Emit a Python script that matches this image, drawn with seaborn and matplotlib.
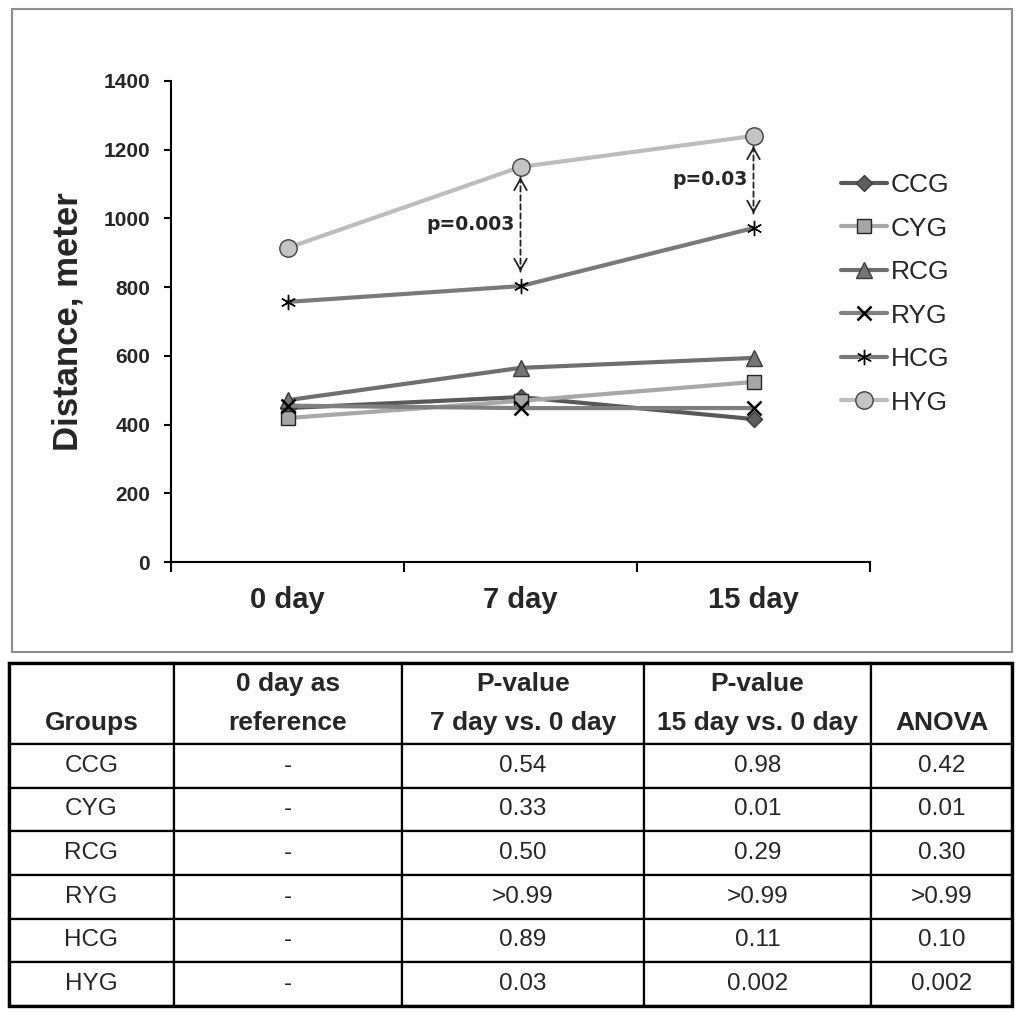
import numpy as np
import pandas as pd
import seaborn as sns
import matplotlib.pyplot as plt
from matplotlib.patches import Rectangle

# time points and groups
days = ['0 day', '7 day', '15 day']
groups = ['CCG', 'CYG', 'RCG', 'RYG', 'HCG', 'HYG']

# distance (meter) per group
ccg = [448, 480, 416]
cyg = [419, 469, 524]
rcg = [471, 565, 594]
ryg = [455, 448, 448]
hcg = [757, 803, 972]
hyg = [914, 1150, 1240]

# significance between HYG and HCG (index of day, label)
sig_days = [1, 2]
sig_labels = ['p=0.003', 'p=0.03']

# table under the chart
headers = ['\nGroups', '0 day as\nreference', 'P-value\n7 day vs. 0 day',
           'P-value\n15 day vs. 0 day', '\nANOVA']
ref_col = ['-', '-', '-', '-', '-', '-']
p_7 = ['0.54', '0.33', '0.50', '>0.99', '0.89', '0.03']
p_15 = ['0.98', '0.01', '0.29', '>0.99', '0.11', '0.002']
anova = ['0.42', '0.01', '0.30', '>0.99', '0.10', '0.002']

values = dict(zip(groups, [ccg, cyg, rcg, ryg, hcg, hyg]))

styles = {
    'CCG': dict(color='#595959', marker='D', ms=8, mfc='#5e5e5e', mec='#3c3c3c', mew=1.0),
    'CYG': dict(color='#a8a8a8', marker='s', ms=9.5, mfc='#a6a6a6', mec='#262626', mew=1.0),
    'RCG': dict(color='#6f6f6f', marker='^', ms=11.5, mfc='#757575', mec='#3c3c3c', mew=1.0),
    'RYG': dict(color='#808080', marker='x', ms=9.5, mfc='black', mec='black', mew=1.8),
    'HCG': dict(color='#7a7a7a', marker=(6, 2, 0), ms=11, mfc='black', mec='black', mew=1.0),
    'HYG': dict(color='#bdbdbd', marker='o', ms=12.5, mfc='#c4c4c4', mec='#404040', mew=1.0),
}

sns.set_style('ticks')
plt.rcParams['font.family'] = ['Liberation Sans', 'DejaVu Sans']

W, H = 1021, 1013
fig = plt.figure(figsize=(W / 100, H / 100), dpi=100)


def box(x0, y0, x1, y1):
    # pixel box (top-left origin) -> figure fraction rect
    return [x0 / W, 1 - y1 / H, (x1 - x0) / W, (y1 - y0) / H]


# grey frame around the chart area
fig.patches.append(Rectangle((12 / W, 1 - 652 / H), 1000 / W, 643 / H,
                             transform=fig.transFigure, fill=False,
                             ec='#8c8c8c', lw=1.5))

ax = fig.add_axes(box(171, 81, 870, 562))
xpos = np.arange(len(days))
for g in groups:
    st = styles[g]
    sns.lineplot(x=xpos, y=values[g], ax=ax, color=st['color'], lw=3.0,
                 marker=st['marker'], markersize=st['ms'],
                 markerfacecolor=st['mfc'], markeredgecolor=st['mec'],
                 markeredgewidth=st['mew'], legend=False)

ax.set_xlim(-0.5, len(days) - 0.5)
ax.set_ylim(0, 1400)
ax.set_yticks(range(0, 1401, 200))
ax.set_xticks(np.arange(-0.5, len(days)), labels=[''] * (len(days) + 1))
ax.set_xticks(xpos, labels=days, minor=True)
ax.tick_params(axis='x', which='major', length=7, width=1.5, color='black')
ax.tick_params(axis='x', which='minor', length=0, pad=17, labelsize=21)
ax.tick_params(axis='y', length=5, width=1.5, pad=10, labelsize=15, color='black')
for lab in ax.get_xticklabels(minor=True) + ax.get_yticklabels():
    lab.set_fontweight('bold')
sns.despine(ax=ax)
for s in ['left', 'bottom']:
    ax.spines[s].set_linewidth(1.5)
    ax.spines[s].set_color('black')
ax.set_ylabel('Distance, meter', fontsize=25, fontweight='bold', va='center')
ax.yaxis.set_label_coords(-0.148, 0.5)

# dashed double arrows between HYG and HCG
for i, lab in zip(sig_days, sig_labels):
    top = hyg[i] - 30
    bottom = hcg[i] + 42
    ax.annotate('', xy=(i, bottom), xytext=(i, top),
                arrowprops=dict(arrowstyle='-', ls=(0, (3, 2)), lw=1.3,
                                color='#222222', shrinkA=0, shrinkB=0))
    for end, start in ((top, top - 12), (bottom, bottom + 12)):
        ax.annotate('', xy=(i, end), xytext=(i, start),
                    arrowprops=dict(arrowstyle='->,head_length=0.8,head_width=0.45',
                                    lw=1.3, color='#222222', shrinkA=0, shrinkB=0))
    ax.annotate(lab, xy=(i, (top + bottom) / 2), xytext=(-4, 0),
                textcoords='offset points', ha='right', va='center',
                fontsize=13.5, fontweight='bold', family='DejaVu Sans')

handles = ax.lines[:len(groups)]
fig.legend(handles, groups, loc='upper left',
           bbox_to_anchor=(841 / W, 1 - 173 / H), frameon=False,
           fontsize=19, handlelength=1.74, handletextpad=0.15,
           labelspacing=0.74, borderpad=0, borderaxespad=0)

# table
tax = fig.add_axes(box(9, 663, 1012, 1006))
tax.axis('off')
rows = [list(r) for r in zip(groups, ref_col, p_7, p_15, anova)]
col_px = np.array([165, 228, 242, 227, 141])
tbl = tax.table(cellText=rows, colLabels=headers, colWidths=col_px / col_px.sum(),
                cellLoc='center', bbox=[0, 0, 1, 1])
tbl.auto_set_font_size(False)
for (r, c), cell in tbl.get_celld().items():
    cell.set_linewidth(1.6)
    cell.set_edgecolor('black')
    cell.set_height(81 if r == 0 else 43.8)
    t = cell.get_text()
    if r == 0:
        t.set_fontweight('bold')
        t.set_fontsize(19)
        t.set_linespacing(1.75)
    else:
        t.set_fontsize(17.5)
tax.add_patch(Rectangle((0, 0), 1, 1, transform=tax.transAxes, fill=False,
                        ec='black', lw=2.4, clip_on=False))

fig.savefig('out.png', dpi=100)
